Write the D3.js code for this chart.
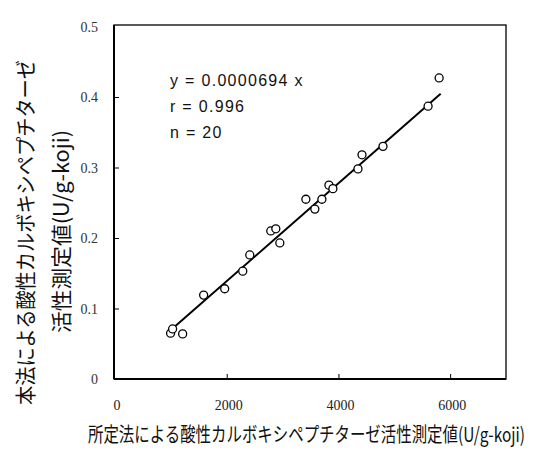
<!DOCTYPE html>
<html>
<head>
<meta charset="utf-8">
<script src="https://cdn.jsdelivr.net/npm/d3@7"></script>
<style>
  body { margin: 0; background: #fff; }
  svg { display: block; }
</style>
</head>
<body>
<div id="chart"></div>
<script>
var xValues = [995, 1031, 1211, 1587, 1964, 2287, 2413, 2789, 2879, 2951,
               3417, 3578, 3704, 3830, 3901, 4350, 4422, 4798, 5605, 5803];
var yValues = [0.065, 0.071, 0.064, 0.119, 0.128, 0.153, 0.176, 0.210, 0.213, 0.193,
               0.255, 0.241, 0.255, 0.275, 0.270, 0.298, 0.318, 0.330, 0.387, 0.427];
var slope = 0.0000694;
var fitRange = [1000, 5830];
var xTicks = [0, 2000, 4000, 6000];
var yTicks = [0, 0.1, 0.2, 0.3, 0.4, 0.5];
var yTickLabels = ["0", "0.1", "0.2", "0.3", "0.4", "0.5"];
var statLines = ["y = 0.0000694 x", "r  = 0.996", "n = 20"];
var xTitle = "所定法による酸性カルボキシペプチターゼ活性測定値(U/g-koji)";
var yTitle1 = "本法による酸性カルボキシペプチターゼ";
var yTitle2 = "活性測定値(U/g-koji)";

var width = 540, height = 450;
var plotL = 114, plotR = 506, plotT = 25, plotB = 379;

var x = d3.scaleLinear().domain([0, 7000]).range([115, 506]);
var y = d3.scaleLinear().domain([0, 0.5]).range([379, 26.5]);

var svg = d3.select("#chart").append("svg")
	.attr("width", width)
	.attr("height", height);

// frame
svg.append("rect")
	.attr("x", plotL).attr("y", plotT)
	.attr("width", plotR - plotL).attr("height", plotB - plotT)
	.attr("fill", "none").attr("stroke", "#000").attr("stroke-width", 1.3);
svg.append("line")
	.attr("x1", plotL).attr("x2", plotL).attr("y1", plotT).attr("y2", plotB)
	.attr("stroke", "#000").attr("stroke-width", 2);
svg.append("line")
	.attr("x1", plotL).attr("x2", plotR).attr("y1", plotB).attr("y2", plotB)
	.attr("stroke", "#000").attr("stroke-width", 2);

// axes, ticks pointing inward
var yAxis = svg.append("g")
	.attr("transform", "translate(" + plotL + ",0)")
	.call(d3.axisRight(y).tickValues(yTicks.slice(1, 5)).tickSize(5).tickFormat(""));
yAxis.select(".domain").remove();

var xAxis = svg.append("g")
	.attr("transform", "translate(0," + plotB + ")")
	.call(d3.axisTop(x).tickValues(xTicks.slice(1)).tickSize(5).tickFormat(""));
xAxis.select(".domain").remove();

svg.selectAll(".ylab")
	.data(yTicks)
	.enter().append("text")
	.attr("class", "ylab")
	.attr("x", 98)
	.attr("y", function(d) { return y(d) + 5; })
	.attr("text-anchor", "end")
	.style("font-family", "'Liberation Serif', serif")
	.style("font-size", "14px")
	.style("fill", "#333")
	.text(function(d, i) { return yTickLabels[i]; });

svg.selectAll(".xlab")
	.data(xTicks)
	.enter().append("text")
	.attr("class", "xlab")
	.attr("x", function(d) { return x(d) + 2; })
	.attr("y", 410)
	.attr("text-anchor", "middle")
	.style("font-family", "'Liberation Serif', serif")
	.style("font-size", "14px")
	.style("fill", "#222")
	.text(function(d) { return d; });

// regression line
svg.append("line")
	.attr("x1", x(fitRange[0])).attr("y1", y(slope * fitRange[0]))
	.attr("x2", x(fitRange[1])).attr("y2", y(slope * fitRange[1]))
	.attr("stroke", "#000").attr("stroke-width", 2);

// points
svg.selectAll("circle")
	.data(xValues)
	.enter().append("circle")
	.attr("cx", function(d) { return x(d); })
	.attr("cy", function(d, i) { return y(yValues[i]); })
	.attr("r", 4)
	.attr("fill", "#fff")
	.attr("stroke", "#000")
	.attr("stroke-width", 1.3);

// stats
svg.selectAll(".stat")
	.data(statLines)
	.enter().append("text")
	.attr("class", "stat")
	.attr("x", 170)
	.attr("y", function(d, i) { return 86 + i * 26; })
	.style("font-family", "'Liberation Sans', Arial, sans-serif")
	.style("font-size", "16px")
	.style("letter-spacing", "1.3px")
	.style("fill", "#111")
	.text(function(d) { return d; });

// axis titles (condensed, tall glyphs as in the original)
svg.append("text")
	.attr("transform", "translate(88,442) scale(1,1.25)")
	.attr("textLength", 437)
	.attr("lengthAdjust", "spacingAndGlyphs")
	.style("font-family", "'Noto Sans CJK JP', sans-serif")
	.style("font-size", "16px")
	.style("fill", "#111")
	.text(xTitle);

svg.append("text")
	.attr("transform", "translate(33,405) rotate(-90)")
	.attr("textLength", 345)
	.attr("lengthAdjust", "spacingAndGlyphs")
	.style("font-family", "'Noto Sans CJK JP', sans-serif")
	.style("font-size", "21px")
	.style("fill", "#111")
	.text(yTitle1);

svg.append("text")
	.attr("transform", "translate(69,333) rotate(-90)")
	.attr("textLength", 203)
	.attr("lengthAdjust", "spacingAndGlyphs")
	.style("font-family", "'Noto Sans CJK JP', sans-serif")
	.style("font-size", "21px")
	.style("fill", "#111")
	.text(yTitle2);
</script>
</body>
</html>
